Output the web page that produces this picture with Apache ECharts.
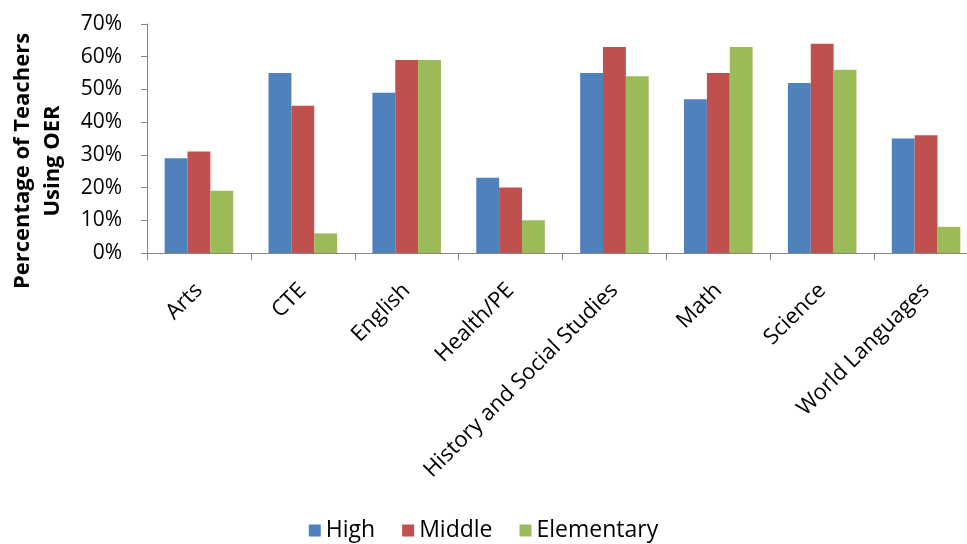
<!DOCTYPE html>
<html>
<head>
<meta charset="utf-8">
<script src="https://cdn.jsdelivr.net/npm/echarts@6/dist/echarts.min.js"></script>
<style>
  html, body { margin: 0; padding: 0; background: #ffffff; }
  #chart { width: 967px; height: 544px; }
</style>
</head>
<body>
<div id="chart"></div>
<script>
// Subjects along the x axis
const categories = ['Arts', 'CTE', 'English', 'Health/PE', 'History and Social Studies', 'Math', 'Science', 'World Languages'];

// Share of teachers using OER, in percent, by school level
const highValues = [29, 55, 49, 23, 55, 47, 52, 35];
const middleValues = [31, 45, 59, 20, 63, 55, 64, 36];
const elementaryValues = [19, 6, 59, 10, 54, 63, 56, 8];

const seriesNames = ['High', 'Middle', 'Elementary'];
const seriesColors = ['#4F81BD', '#C0504D', '#9BBB59'];
const yTitle = 'Percentage of Teachers\nUsing OER';

const FONT = '"Open Sans", "Liberation Sans", Arial, sans-serif';

const chart = echarts.init(document.getElementById('chart'), null, { renderer: 'canvas' });

const dataSets = [highValues, middleValues, elementaryValues];

chart.setOption({
  animation: false,
  backgroundColor: '#ffffff',
  textStyle: { fontFamily: FONT },
  grid: { left: 147, right: -11, top: 24, bottom: 291, containLabel: false, outerBoundsMode: 'none' },
  legend: {
    bottom: -3,
    left: 'center',
    itemWidth: 12,
    itemHeight: 12,
    itemGap: 27,
    icon: 'rect',
    textStyle: { fontSize: 23, color: '#000000', fontFamily: FONT },
    data: seriesNames
  },
  // rotated axis title, placed to the left of the tick labels
  graphic: [{
    type: 'text',
    x: 38,
    y: 161,
    rotation: Math.PI / 2,
    style: {
      text: yTitle,
      fill: '#000000',
      font: 'bold 22px ' + FONT,
      lineHeight: 30,
      align: 'center',
      verticalAlign: 'middle'
    }
  }],
  xAxis: {
    type: 'category',
    data: categories,
    axisLine: { lineStyle: { color: '#868686', width: 1 } },
    axisTick: { show: true, length: 7, lineStyle: { color: '#868686' }, alignWithLabel: false },
    axisLabel: {
      rotate: 45,
      interval: 0,
      fontSize: 22,
      color: '#000000',
      margin: 34,
      fontFamily: FONT
    },
    splitLine: { show: false }
  },
  yAxis: {
    type: 'value',
    min: 0,
    max: 70,
    interval: 10,
    axisLine: { show: true, lineStyle: { color: '#868686', width: 1 } },
    axisTick: { show: true, length: 6, lineStyle: { color: '#868686' } },
    axisLabel: {
      formatter: '{value}%',
      fontSize: 21,
      color: '#000000',
      margin: 25,
      fontFamily: FONT
    },
    splitLine: { show: false }
  },
  series: seriesNames.map((name, i) => ({
    name: name,
    type: 'bar',
    data: dataSets[i],
    barGap: '0%',
    barCategoryGap: '34%',
    itemStyle: { color: seriesColors[i] }
  }))
});
</script>
</body>
</html>
